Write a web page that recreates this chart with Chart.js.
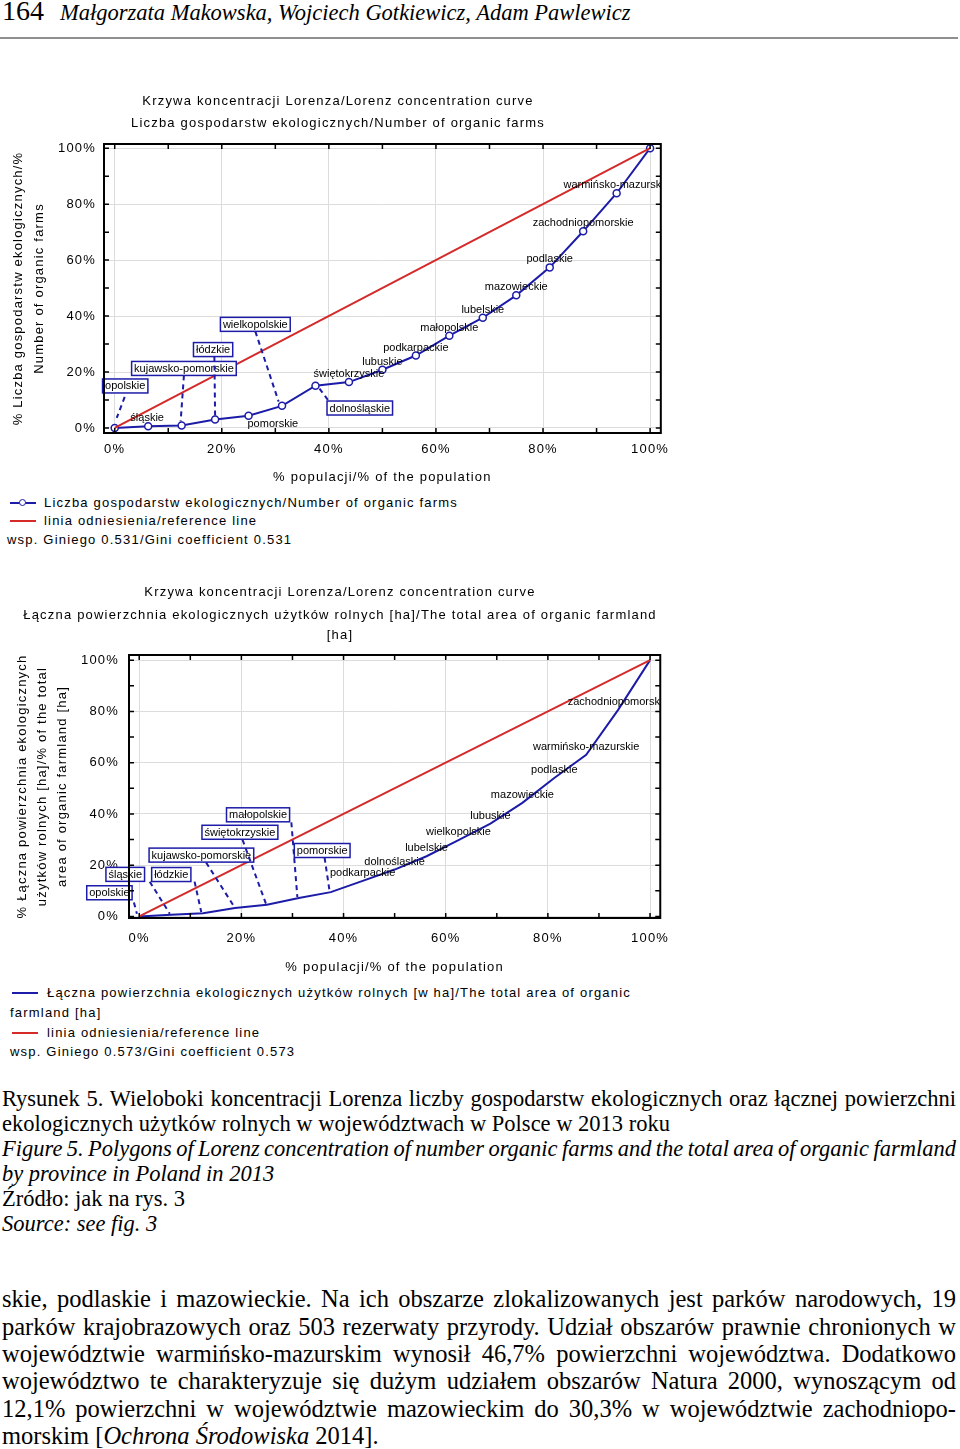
<!DOCTYPE html>
<html>
<head>
<meta charset="utf-8">
<script src="https://cdn.jsdelivr.net/npm/chart.js@4.4.1/dist/chart.umd.min.js"></script>
<style>
  body { margin: 0; background: #fff; }
  #page { position: relative; width: 960px; height: 1449px; overflow: hidden; background: #fff; }
  .abs { position: absolute; white-space: nowrap; color: #000; }
  .sans { font-family: 'Liberation Sans', Arial, sans-serif; font-size: 13px; letter-spacing: 1.2px; line-height: 16px; }
  .serif { font-family: 'Liberation Serif', 'Times New Roman', serif; color: #000; }
  .jl { position: absolute; left: 2px; width: 954px; white-space: nowrap; text-align: justify; text-align-last: justify; }
  .ll { position: absolute; left: 2px; white-space: nowrap; }
  .cap { font-size: 22.5px; line-height: 25px; }
  .txt { font-size: 24.5px; line-height: 27px; }
  .lline { position: absolute; height: 2px; }
  .dot { position: absolute; width: 5px; height: 5px; border: 1.5px solid #1c1ca8; border-radius: 50%; background: #fff; }
  canvas { position: absolute; left: 0; }
</style>
</head>
<body>
<div id="page">
  <!-- running head -->
  <div class="abs serif" style="left:2px; top:-5px; font-size:28px; line-height:32px;">164</div>
  <div class="abs serif" style="left:60px; top:-1px; font-size:22.5px; line-height:28px; font-style:italic;">Małgorzata Makowska, Wojciech Gotkiewicz, Adam Pawlewicz</div>
  <div style="position:absolute; left:0; top:37px; width:958px; height:2px; background:#8f8f8f;"></div>

  <canvas id="c1" width="676" height="410" style="top:80px;"></canvas>

  <!-- legend 1 -->
  <div class="lline" style="left:10px; top:502px; width:26px; background:#1c1ca8;"></div>
  <div class="dot" style="left:19px; top:499px;"></div>
  <div class="abs sans" style="left:44px; top:495px;">Liczba gospodarstw ekologicznych/Number of organic farms</div>
  <div class="lline" style="left:10px; top:520px; width:26px; background:#d42a2a;"></div>
  <div class="abs sans" style="left:44px; top:513px;">linia odniesienia/reference line</div>
  <div class="abs sans" style="left:7px; top:532px;">wsp. Giniego 0.531/Gini coefficient 0.531</div>

  <canvas id="c2" width="680" height="410" style="top:570px;"></canvas>

  <!-- legend 2 -->
  <div class="lline" style="left:12px; top:992px; width:26px; background:#1c1ca8;"></div>
  <div class="abs sans" style="left:47px; top:985px;">Łączna powierzchnia ekologicznych użytków rolnych [w ha]/The total area of organic</div>
  <div class="abs sans" style="left:10px; top:1005px;">farmland [ha]</div>
  <div class="lline" style="left:12px; top:1032px; width:26px; background:#d42a2a;"></div>
  <div class="abs sans" style="left:47px; top:1025px;">linia odniesienia/reference line</div>
  <div class="abs sans" style="left:10px; top:1044px;">wsp. Giniego 0.573/Gini coefficient 0.573</div>

  <!-- caption -->
  <div class="serif cap jl" style="top:1086px;">Rysunek 5. Wieloboki koncentracji Lorenza liczby gospodarstw ekologicznych oraz łącznej powierzchni</div>
  <div class="serif cap ll" style="top:1111px;">ekologicznych użytków rolnych w województwach w Polsce w 2013 roku</div>
  <div class="serif cap jl" style="top:1136px; font-style:italic;">Figure 5. Polygons of Lorenz concentration of number organic farms and the total area of organic farmland</div>
  <div class="serif cap ll" style="top:1161px; font-style:italic;">by province in Poland in 2013</div>
  <div class="serif cap ll" style="top:1186px;">Źródło: jak na rys. 3</div>
  <div class="serif cap ll" style="top:1211px; font-style:italic;">Source: see fig. 3</div>

  <!-- body text -->
  <div class="serif txt jl" style="top:1285px;">skie, podlaskie i mazowieckie. Na ich obszarze zlokalizowanych jest parków narodowych, 19</div>
  <div class="serif txt jl" style="top:1313px;">parków krajobrazowych oraz 503 rezerwaty przyrody. Udział obszarów prawnie chronionych w</div>
  <div class="serif txt jl" style="top:1340px;">województwie warmińsko-mazurskim wynosił 46,7% powierzchni województwa. Dodatkowo</div>
  <div class="serif txt jl" style="top:1367px;">województwo te charakteryzuje się dużym udziałem obszarów Natura 2000, wynoszącym od</div>
  <div class="serif txt jl" style="top:1395px;">12,1% powierzchni w województwie mazowieckim do 30,3% w województwie zachodniopo-</div>
  <div class="serif txt ll" style="top:1422px;">morskim [<i>Ochrona Środowiska</i> 2014].</div>
</div>

<script>
// --- data ---
const popShare = [0, 6.25, 12.5, 18.75, 25, 31.25, 37.5, 43.75, 50, 56.25, 62.5, 68.75, 75, 81.25, 87.5, 93.75, 100];

// chart 1: number of organic farms (cumulative %)
const farmsNames = ['opolskie', 'śląskie', 'kujawsko-pomorskie', 'łódzkie', 'pomorskie', 'wielkopolskie',
  'dolnośląskie', 'świętokrzyskie', 'lubuskie', 'podkarpackie', 'małopolskie', 'lubelskie',
  'mazowieckie', 'podlaskie', 'zachodniopomorskie', 'warmińsko-mazurskie'];
const farmsShare = [0, 0.6, 0.9, 3.0, 4.4, 7.9, 15.1, 16.4, 20.8, 25.9, 33.0, 39.4, 47.4, 57.4, 70.3, 83.9, 100];

// chart 2: total area of organic farmland (cumulative %)
const areaNames = ['opolskie', 'śląskie', 'łódzkie', 'kujawsko-pomorskie', 'świętokrzyskie', 'małopolskie',
  'pomorskie', 'podkarpackie', 'dolnośląskie', 'lubelskie', 'wielkopolskie', 'lubuskie',
  'mazowieckie', 'podlaskie', 'warmińsko-mazurskie', 'zachodniopomorskie'];
const areaShare = [0, 0.7, 1.3, 3.3, 4.6, 7.2, 9.5, 13.9, 18.3, 23.5, 29.8, 36.2, 44.3, 54.0, 63.1, 80.6, 100];

const refX = [0, 100];
const refY = [0, 100];
const axisTicks = [0, 20, 40, 60, 80, 100];
const minorTicks = [0, 10, 20, 30, 40, 50, 60, 70, 80, 90, 100];

// label placement: [dx, dy, boxed, leader x1, y1, x2, y2] relative to the point
const farmsLabelPos = [
  [10.5, -42, 1, 10, -31, 2, -10],
  [-1, -8.5],
  [2.3, -57, 1, 2.3, -50, -1, -4],
  [-2, -70, 1, -0.7, -63, 0, -4],
  [24.3, 8],
  [-26.7, -81.5, 1, -26.7, -74.5, -3.4, -4.3],
  [44.3, 22.3, 1, 4, 3, 13, 15],
  [0, -8], [0, -8], [0, -8], [0, -8], [0, -8], [0, -8], [0, -8], [0, -8], [0, -8]
];
const areaLabelPos = [
  [-29.8, -23.7, 1, -5.3, -14, -2.3, -2.7],
  [-45.9, -40.3, 1, -21.4, -33, -1.4, -1],
  [-31.8, -38.6, 1, -8.5, -31.5, -1.8, -1],
  [-33.6, -52.9, 1, -28.9, -45.5, -0.6, -1],
  [-27, -72.4, 1, -24.4, -64.9, -1, -1],
  [-40.8, -83.2, 1, -7.5, -75.7, -1.5, -1],
  [-8.6, -41.6, 1, -6.2, -34.5, -1.2, -1],
  [0, -8], [0, -8], [0, -8], [0, -8], [0, -8], [0, -8], [0, -8], [0, -8], [0, -8]
];

const BLUE = '#1c1ca8', RED = '#d42a2a';
const FONT = "'Liberation Sans', Arial, sans-serif";
Chart.defaults.font.family = FONT;
Chart.defaults.color = '#000';

const spacing = { id: 'spacing', beforeDraw(chart) { chart.ctx.letterSpacing = '1.2px'; } };

const pointLabels = {
  id: 'pointLabels',
  afterDatasetsDraw(chart, args, opts) {
    const ctx = chart.ctx, a = chart.chartArea;
    const pts = chart.getDatasetMeta(0).data;
    ctx.save();
    ctx.letterSpacing = '0px';
    ctx.font = '11px ' + FONT;
    ctx.textAlign = 'center';
    ctx.textBaseline = 'middle';
    opts.names.forEach((name, i) => {
      const p = pts[i], s = opts.pos[i];
      const cx = p.x + s[0], cy = p.y + s[1];
      if (s[2]) {
        ctx.strokeStyle = BLUE;
        ctx.lineWidth = 2;
        ctx.setLineDash([5, 4]);
        ctx.beginPath();
        ctx.moveTo(p.x + s[3], p.y + s[4]);
        ctx.lineTo(p.x + s[5], p.y + s[6]);
        ctx.stroke();
        ctx.setLineDash([]);
        const w = ctx.measureText(name).width + 5;
        ctx.fillStyle = '#fff';
        ctx.fillRect(cx - w / 2, cy - 7, w, 14);
        ctx.lineWidth = 1.5;
        ctx.strokeRect(cx - w / 2, cy - 7, w, 14);
        ctx.fillStyle = '#000';
        ctx.fillText(name, cx, cy + 0.5);
      } else {
        ctx.save();
        ctx.beginPath();
        ctx.rect(a.left, a.top, a.width, a.height);
        ctx.clip();
        ctx.fillStyle = '#000';
        ctx.fillText(name, cx, cy);
        ctx.restore();
      }
    });
    ctx.restore();
  }
};

const frame = {
  id: 'frame',
  afterDraw(chart) {
    const { ctx, chartArea: a, scales: { x, y } } = chart;
    ctx.save();
    ctx.strokeStyle = '#000';
    ctx.lineWidth = 1.5;
    ctx.beginPath();
    minorTicks.forEach(v => {
      const px = x.getPixelForValue(v), py = y.getPixelForValue(v);
      ctx.moveTo(px, a.bottom); ctx.lineTo(px, a.bottom - 5);
      ctx.moveTo(px, a.top); ctx.lineTo(px, a.top + 5);
      ctx.moveTo(a.left, py); ctx.lineTo(a.left + 5, py);
      ctx.moveTo(a.right, py); ctx.lineTo(a.right - 5, py);
    });
    ctx.stroke();
    ctx.lineWidth = 2;
    ctx.strokeRect(a.left, a.top, a.width, a.height);
    ctx.restore();
  }
};

function lorenzChart(id, o) {
  const tickFont = { size: 13, family: FONT };
  return new Chart(id, {
    type: 'line',
    data: {
      datasets: [{
        label: o.seriesLabel,
        data: popShare.map((x, i) => ({ x: x, y: o.values[i] })),
        borderColor: BLUE,
        borderWidth: 2,
        pointRadius: o.markers ? 3.5 : 0,
        pointBorderWidth: 1.5,
        pointBackgroundColor: '#fff',
        pointBorderColor: BLUE,
        tension: 0,
        order: 1
      }, {
        label: 'linia odniesienia/reference line',
        data: refX.map((x, i) => ({ x: x, y: refY[i] })),
        borderColor: RED,
        borderWidth: 2,
        pointRadius: 0,
        order: 0
      }]
    },
    options: {
      responsive: false,
      animation: false,
      devicePixelRatio: 1,
      events: [],
      layout: { padding: 0 },
      plugins: {
        legend: { display: false },
        tooltip: { enabled: false },
        title: {
          display: true, text: 'Krzywa koncentracji Lorenza/Lorenz concentration curve',
          font: { size: 13, weight: 'normal', lineHeight: 1.2 }, padding: o.titlePad
        },
        subtitle: {
          display: true, text: o.subtitle,
          font: { size: 13, weight: 'normal', lineHeight: o.subLH }, padding: o.subPad
        },
        pointLabels: { names: o.names, pos: o.labelPos }
      },
      scales: {
        x: {
          type: 'linear', min: -2, max: 102,
          afterBuildTicks: s => { s.ticks = axisTicks.map(v => ({ value: v })); },
          afterFit: s => { s.height = o.xHeight; },
          grid: { color: '#dcdcdc', drawTicks: false },
          border: { display: false },
          ticks: { padding: o.xTickPad, font: tickFont, maxRotation: 0, autoSkip: false, callback: v => v + '%' },
          title: { display: true, text: '% populacji/% of the population', font: { size: 13, lineHeight: 1.23 }, padding: { top: 0, bottom: 5 } }
        },
        y: {
          type: 'linear', min: o.yMin, max: o.yMax,
          afterBuildTicks: s => { s.ticks = axisTicks.map(v => ({ value: v })); },
          afterFit: s => { s.width = o.yWidth; },
          grid: { color: '#dcdcdc', drawTicks: false },
          border: { display: false },
          ticks: { padding: o.yTickPad, font: tickFont, autoSkip: false, callback: v => v + '%' },
          title: { display: true, text: o.yTitle, font: { size: 13, lineHeight: o.yTitleLH }, padding: { top: o.yTitlePad, bottom: 0 } }
        },
        yR: {
          type: 'linear', position: 'right',
          afterFit: s => { s.width = o.rightGap; },
          grid: { display: false }, border: { display: false }, ticks: { display: false }
        }
      }
    },
    plugins: [spacing, pointLabels, frame]
  });
}

lorenzChart('c1', {
  seriesLabel: 'Liczba gospodarstw ekologicznych/Number of organic farms',
  values: farmsShare, markers: true, names: farmsNames, labelPos: farmsLabelPos,
  titlePad: { top: 13.2, bottom: 0 },
  subtitle: 'Liczba gospodarstw ekologicznych/Number of organic farms',
  subLH: 1.2, subPad: { top: 6.4, bottom: 13.2 },
  xHeight: 57, xTickPad: 9,
  yMin: -1.8, yMax: 101.5, yWidth: 104, yTickPad: 8,
  yTitle: ['% Liczba gospodarstw ekologicznych/%', 'Number of organic farms'],
  yTitleLH: 21 / 13, yTitlePad: 7.5, rightGap: 14
});

lorenzChart('c2', {
  seriesLabel: 'Łączna powierzchnia ekologicznych użytków rolnych [w ha]/The total area of organic farmland [ha]',
  values: areaShare, markers: false, names: areaNames, labelPos: areaLabelPos,
  titlePad: { top: 14.2, bottom: 0 },
  subtitle: ['Łączna powierzchnia ekologicznych użytków rolnych [ha]/The total area of organic farmland', '[ha]'],
  subLH: 20 / 13, subPad: { top: 5.2, bottom: 10 },
  xHeight: 62, xTickPad: 13,
  yMin: -0.6, yMax: 102, yWidth: 129, yTickPad: 10,
  yTitle: ['% Łączna powierzchnia ekologicznych', 'użytków rolnych [ha]/% of the total', 'area of organic farmland [ha]'],
  yTitleLH: 20 / 13, yTitlePad: 12, rightGap: 17
});

// squeeze justified lines that are naturally wider than the column
document.fonts.ready.then(() => {
  document.querySelectorAll('.jl').forEach(el => {
    const over = el.scrollWidth - el.clientWidth;
    if (over > 0) {
      const spaces = (el.textContent.match(/ /g) || []).length;
      el.style.wordSpacing = (-over / spaces - 0.3) + 'px';
    }
  });
});
</script>
</body>
</html>
